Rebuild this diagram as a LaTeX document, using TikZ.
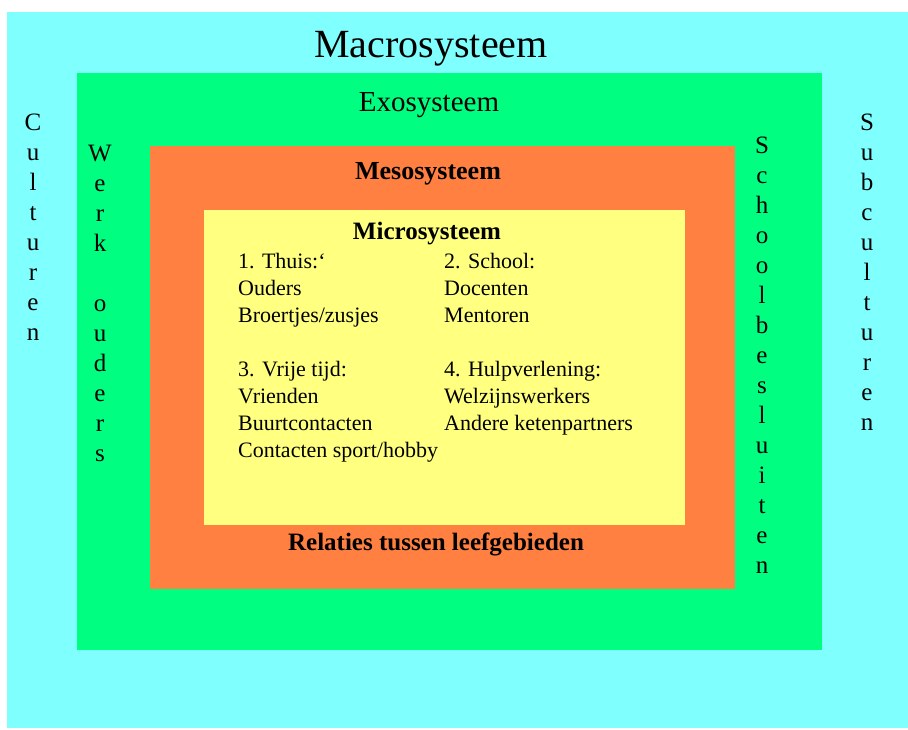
\documentclass[tikz,border=0pt]{standalone}
\usepackage{fontspec}
\setmainfont{Liberation Serif}
\definecolor{macrocol}{RGB}{128,255,255}
\definecolor{exocol}{RGB}{0,255,128}
\definecolor{mesocol}{RGB}{255,128,64}
\definecolor{microcol}{RGB}{255,255,128}

\begin{document}
\begin{tikzpicture}[x=1pt,y=-1pt, every node/.style={inner sep=0pt},
  vletters/.style={anchor=north, align=center, font=\fontsize{25}{30}\selectfont},
  items/.style={anchor=north west, align=left, font=\fontsize{22}{27}\selectfont}]
\useasboundingbox (0,0) rectangle (908,729);
\fill[white] (0,0) rectangle (908,729);
\fill[macrocol] (7,12) rectangle (908,728);
\fill[exocol] (77,73) rectangle (822,650);
\fill[mesocol] (150,146) rectangle (735,589);
\fill[microcol] (204,210) rectangle (685,525);
% titles
\node[anchor=base, font=\fontsize{40}{40}\selectfont] (macro) at (431,57) {Macrosysteem};
\node[anchor=base, font=\fontsize{29}{29}\selectfont] (exo) at (429,111) {Exosysteem};
\node[anchor=base, font=\bfseries\fontsize{26}{26}\selectfont] (meso) at (428,179) {Mesosysteem};
\node[anchor=base, font=\bfseries\fontsize{25}{25}\selectfont] (micro) at (427,239) {Microsysteem};
\node[anchor=base, font=\bfseries\fontsize{25}{25}\selectfont] (relaties) at (436,550) {Relaties tussen leefgebieden};
% leefgebieden
\node[items] (thuis) at (238,253) {1. Thuis:`\\Ouders\\Broertjes/zusjes};
\node[items] (school) at (444,253) {2. School:\\Docenten\\Mentoren};
\node[items] (vrijetijd) at (238,361) {3. Vrije tijd:\\Vrienden\\Buurtcontacten\\Contacten sport/hobby};
\node[items] (hulp) at (444,361) {4. Hulpverlening:\\Welzijnswerkers\\Andere ketenpartners};
% vertical labels
\node[vletters] (culturen) at (33,114) {C\\u\\l\\t\\u\\r\\e\\n};
\node[vletters] (werkouders) at (100,145) {W\\e\\r\\k\\[30pt]o\\u\\d\\e\\r\\s};
\node[vletters] (schoolbesluiten) at (762,137) {S\\c\\h\\o\\o\\l\\b\\e\\s\\l\\u\\i\\t\\e\\n};
\node[vletters] (subculturen) at (867,114) {S\\u\\b\\c\\u\\l\\t\\u\\r\\e\\n};
\end{tikzpicture}
\end{document}
